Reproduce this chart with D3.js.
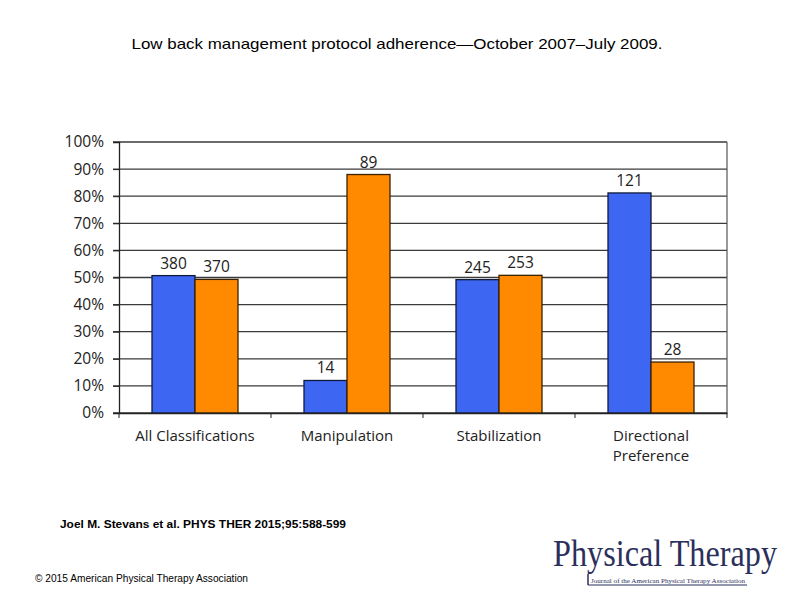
<!DOCTYPE html>
<html><head><meta charset="utf-8">
<script src="https://cdn.jsdelivr.net/npm/d3@7"></script>
<style>body{margin:0;background:#fff}svg{display:block}</style>
</head><body>
<svg id="c" width="794" height="595"></svg>
<script>
const categories = ["All Classifications", "Manipulation", "Stabilization", "Directional Preference"];
const blueValues = [50.7, 12.0, 49.2, 81.2];
const orangeValues = [49.3, 88.0, 50.8, 18.8];
const blueCounts = ["380", "14", "245", "121"];
const orangeCounts = ["370", "89", "253", "28"];
const yTicks = [0, 10, 20, 30, 40, 50, 60, 70, 80, 90, 100];

const svg = d3.select("#c");
const L = 119, R = 727, T = 142, B = 413;
const x = d3.scaleBand().domain(categories).range([L, R]);
const y = d3.scaleLinear().domain([0, 100]).range([B, T]);
const barW = 43;
const axisFont = "'Open Sans', 'Noto Sans', sans-serif";

// title
svg.append("text").attr("x", 397).attr("y", 49).attr("text-anchor", "middle")
  .attr("font-family", "'Liberation Sans', Arial, sans-serif").attr("font-size", 15)
  .attr("textLength", 531).attr("lengthAdjust", "spacingAndGlyphs")
  .text("Low back management protocol adherence\u2014October 2007\u2013July 2009.");

// gridlines
svg.append("g").selectAll("line").data(yTicks).join("line")
  .attr("x1", L - 6).attr("x2", R).attr("y1", d => y(d)).attr("y2", d => y(d))
  .attr("stroke", "#3a3a3a").attr("stroke-width", 1.3);
// right border
svg.append("line").attr("x1", R).attr("x2", R).attr("y1", T).attr("y2", B)
  .attr("stroke", "#555").attr("stroke-width", 1.2);

// y axis
const yAxis = d3.axisLeft(y).tickValues(yTicks).tickFormat(d => d + "%").tickSize(6).tickPadding(9);
const gy = svg.append("g").attr("transform", `translate(${L},0)`).call(yAxis);
gy.select(".domain").attr("stroke", "#222").attr("stroke-width", 1.3);
gy.selectAll(".tick line").attr("stroke", "#222");
gy.selectAll("text").attr("font-family", axisFont).attr("font-size", 15.5).attr("fill", "#222");

// bars
const g = svg.append("g");
g.selectAll("rect.blue").data(categories).join("rect").attr("class", "blue")
  .attr("x", d => x(d) + x.bandwidth() / 2 - barW).attr("width", barW)
  .attr("y", (d, i) => y(blueValues[i])).attr("height", (d, i) => B - y(blueValues[i]))
  .attr("fill", "#3d66f3").attr("stroke", "#111a3a").attr("stroke-width", 1.3);
g.selectAll("rect.orange").data(categories).join("rect").attr("class", "orange")
  .attr("x", d => x(d) + x.bandwidth() / 2).attr("width", barW)
  .attr("y", (d, i) => y(orangeValues[i])).attr("height", (d, i) => B - y(orangeValues[i]))
  .attr("fill", "#ff8a00").attr("stroke", "#3a2200").attr("stroke-width", 1.3);

// value labels
g.selectAll("text.bl").data(categories).join("text").attr("class", "bl")
  .attr("x", d => x(d) + x.bandwidth() / 2 - barW / 2).attr("y", (d, i) => y(blueValues[i]) - 7)
  .attr("text-anchor", "middle").attr("font-family", axisFont).attr("font-size", 15.5).attr("fill", "#222")
  .text((d, i) => blueCounts[i]);
g.selectAll("text.ol").data(categories).join("text").attr("class", "ol")
  .attr("x", d => x(d) + x.bandwidth() / 2 + barW / 2).attr("y", (d, i) => y(orangeValues[i]) - 7)
  .attr("text-anchor", "middle").attr("font-family", axisFont).attr("font-size", 15.5).attr("fill", "#222")
  .text((d, i) => orangeCounts[i]);

// x axis
const xAxis = d3.axisBottom(x).tickSize(0).tickFormat("");
const gx = svg.append("g").attr("transform", `translate(0,${B})`).call(xAxis);
gx.select(".domain").attr("stroke", "#222").attr("stroke-width", 1.3);
gx.selectAll(".tick").remove();
const bounds = [L, ...categories.map(d => x(d) + x.bandwidth())];
svg.append("g").selectAll("line").data(bounds).join("line")
  .attr("x1", d => d).attr("x2", d => d).attr("y1", B).attr("y2", B + 5)
  .attr("stroke", "#222").attr("stroke-width", 1);

const labelLines = categories.map(c => c === "Directional Preference" ? ["Directional", "Preference"] : [c]);
categories.forEach((c, i) => {
  const t = svg.append("text").attr("x", x(c) + x.bandwidth() / 2).attr("y", 441)
    .attr("text-anchor", "middle").attr("font-family", axisFont).attr("font-size", 15).attr("fill", "#222");
  labelLines[i].forEach((ln, j) => t.append("tspan").attr("x", x(c) + x.bandwidth() / 2).attr("dy", j ? 20 : 0).text(ln));
});

// citation
svg.append("text").attr("x", 60).attr("y", 528).attr("font-family", "'Liberation Sans', Arial, sans-serif")
  .attr("font-size", 11.5).attr("font-weight", "bold").attr("textLength", 286).attr("lengthAdjust", "spacingAndGlyphs")
  .text("Joel M. Stevans et al. PHYS THER 2015;95:588-599");
svg.append("text").attr("x", 35).attr("y", 582).attr("font-family", "'Liberation Sans', Arial, sans-serif")
  .attr("font-size", 10).attr("textLength", 213).attr("lengthAdjust", "spacingAndGlyphs")
  .text("\u00a9 2015 American Physical Therapy Association");

// logo
const logo = svg.append("g");
logo.append("text").attr("transform", "translate(553,566) scale(1,1.2)")
  .attr("font-family", "'Liberation Serif', 'DejaVu Serif', serif")
  .attr("font-size", 31).attr("fill", "#2b2f5c").attr("textLength", 224).attr("lengthAdjust", "spacingAndGlyphs")
  .text("Physical Therapy");
logo.append("line").attr("x1", 588).attr("x2", 588).attr("y1", 574).attr("y2", 585).attr("stroke", "#2b2f5c").attr("stroke-width", 1.5);
logo.append("line").attr("x1", 588).attr("x2", 747).attr("y1", 585).attr("y2", 585).attr("stroke", "#2b2f5c").attr("stroke-width", 1);
logo.append("text").attr("x", 591).attr("y", 583).attr("font-family", "'Liberation Serif', serif")
  .attr("font-size", 7).attr("fill", "#2b2f5c").attr("textLength", 154).attr("lengthAdjust", "spacingAndGlyphs")
  .text("Journal of the American Physical Therapy Association");
</script>
</body></html>
